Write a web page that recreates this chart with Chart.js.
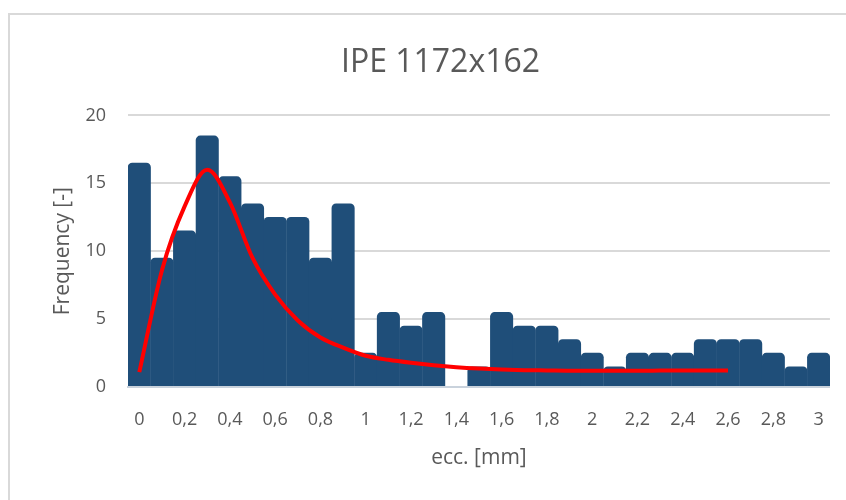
<!DOCTYPE html>
<html>
<head>
<meta charset="utf-8">
<script src="https://cdn.jsdelivr.net/npm/chart.js@4"></script>
<style>
  html, body { margin: 0; padding: 0; background: #ffffff; }
  #frame {
    position: absolute; left: 8px; top: 13px; width: 900px; height: 600px;
    border: 2px solid #d9d9d9; box-sizing: border-box;
  }
  #wrap { position: absolute; left: 0; top: 0; width: 846px; height: 500px; }
</style>
</head>
<body>
<div id="frame"></div>
<div id="wrap"><canvas id="histChart" width="846" height="500"></canvas></div>
<script>
// bin labels (ecc. in mm, comma decimals)
const binLabels = ["0", "0,1", "0,2", "0,3", "0,4", "0,5", "0,6", "0,7", "0,8", "0,9",
  "1", "1,1", "1,2", "1,3", "1,4", "1,5", "1,6", "1,7", "1,8", "1,9",
  "2", "2,1", "2,2", "2,3", "2,4", "2,5", "2,6", "2,7", "2,8", "2,9", "3"];

// histogram counts per bin
const counts = [16, 9, 11, 18, 15, 13, 12, 12, 9, 13,
  2, 5, 4, 5, 0, 1, 5, 4, 4, 3,
  2, 1, 2, 2, 2, 3, 3, 3, 2, 1, 2];

// fitted distribution curve (ends at 2,6)
const fitCurve = [1.1, 8.6, 13.3, 16.0, 13.6, 9.5, 6.8, 4.9, 3.65, 2.9,
  2.3, 2.0, 1.78, 1.6, 1.46, 1.36, 1.29, 1.24, 1.22, 1.2,
  1.2, 1.2, 1.2, 1.21, 1.22, 1.22, 1.22, null, null, null, null];

const yTicks = [0, 5, 10, 15, 20];

const FONT = "'Open Sans', 'Liberation Sans', sans-serif";
const GREY = "#595959";
const BAR_BLUE = "#1f4e79";

const ctx = document.getElementById("histChart");

new Chart(ctx, {
  data: {
    labels: binLabels,
    datasets: [
      {
        type: "line",
        data: fitCurve,
        borderColor: "#ff0000",
        borderWidth: 4,
        pointRadius: 0,
        cubicInterpolationMode: "monotone",
        spanGaps: false,
        order: 0
      },
      {
        type: "bar",
        data: counts,
        // empty bins get no bar at all
        backgroundColor: (c) => (c.raw === 0 ? "rgba(0,0,0,0)" : BAR_BLUE),
        borderWidth: 0,
        borderRadius: 7,
        inflateAmount: 7,
        categoryPercentage: 1,
        barPercentage: 0.4,
        clip: { left: 0, top: false, right: 0, bottom: 0 },
        order: 1
      }
    ]
  },
  options: {
    responsive: false,
    animation: false,
    layout: { padding: { left: 50, right: 15, top: 0, bottom: 20 } },
    plugins: {
      legend: { display: false },
      tooltip: { enabled: false },
      title: {
        display: true,
        text: "IPE 1172x162",
        color: GREY,
        font: { family: FONT, size: 32, weight: "normal" },
        padding: { top: 44, bottom: 33 }
      }
    },
    scales: {
      x: {
        offset: true,
        grid: { display: false, drawTicks: false },
        border: { display: true, color: "#c9d2dc", width: 2, z: 1 },
        ticks: {
          color: GREY,
          font: { family: FONT, size: 18 },
          padding: 22,
          autoSkip: false,
          maxRotation: 0,
          callback: (v, i) => (i % 2 === 0 ? binLabels[i] : "")
        },
        title: {
          display: true,
          text: "ecc. [mm]",
          color: GREY,
          font: { family: FONT, size: 21 },
          padding: { top: 0, bottom: 9 }
        },
        afterFit: (s) => { s.height = 93; }
      },
      y: {
        min: 0,
        max: 20,
        afterBuildTicks: (s) => { s.ticks = yTicks.map((v) => ({ value: v })); },
        grid: { color: "#d9d9d9", lineWidth: 2, drawTicks: false },
        border: { display: false },
        ticks: {
          color: GREY,
          font: { family: FONT, size: 18 },
          padding: 22
        },
        title: {
          display: true,
          text: "Frequency [-]",
          color: GREY,
          font: { family: FONT, size: 21 },
          padding: { top: 0, bottom: 0 }
        },
        afterFit: (s) => { s.width = 78; }
      }
    }
  }
});
</script>
</body>
</html>
